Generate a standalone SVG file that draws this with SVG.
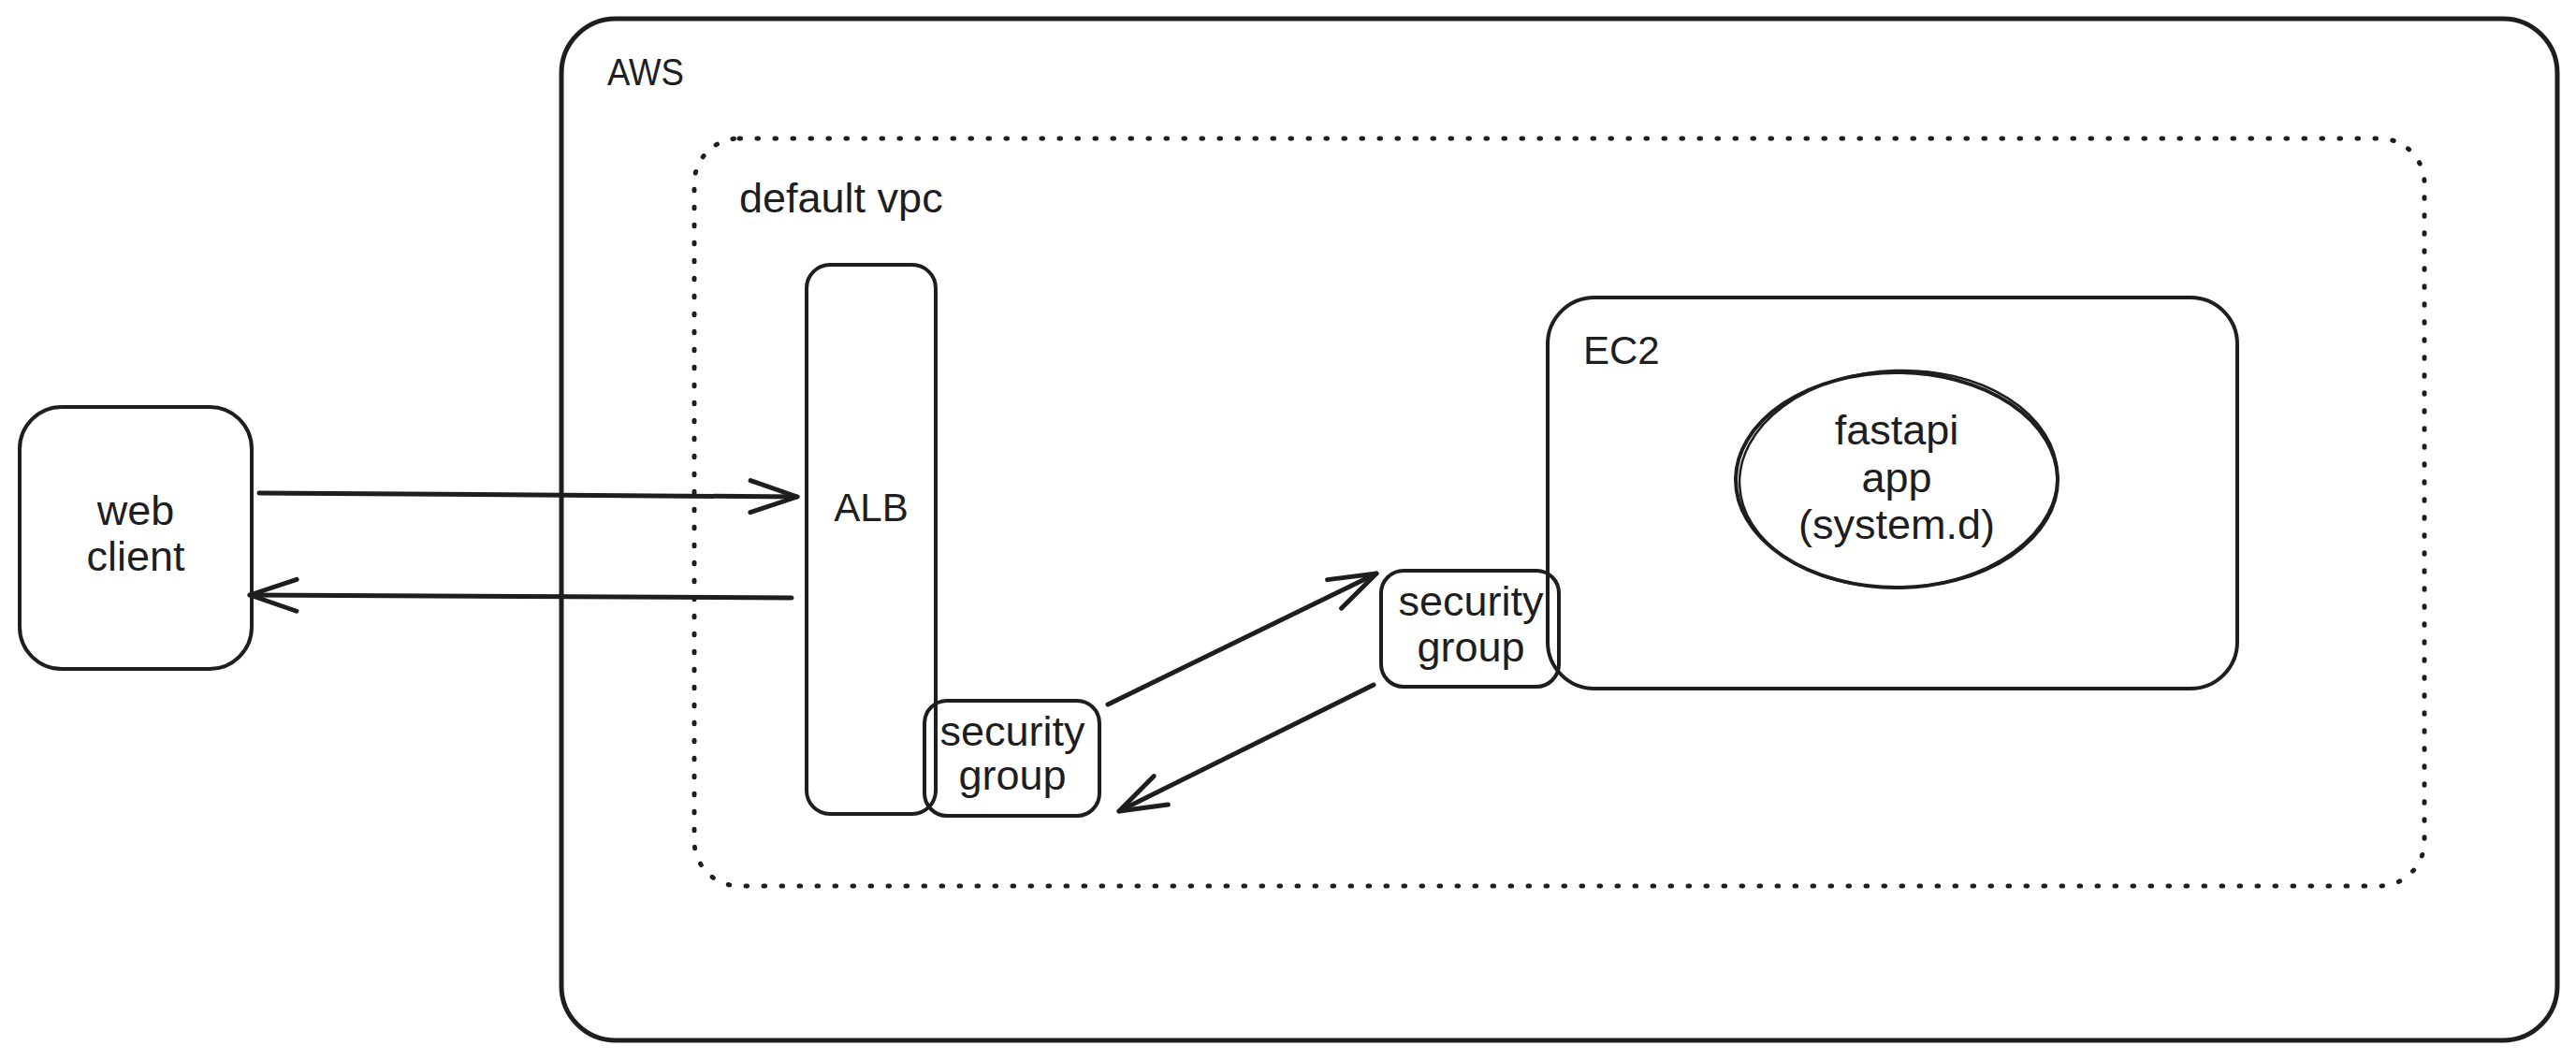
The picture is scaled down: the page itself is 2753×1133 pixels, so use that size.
<svg xmlns="http://www.w3.org/2000/svg" width="2753" height="1133" viewBox="0 0 2753 1133">
<style>
.box{fill:none;stroke:#1e1e1e;stroke-width:4;stroke-linejoin:round}
.outer{fill:none;stroke:#1e1e1e;stroke-width:5}
.dot{fill:none;stroke:#1e1e1e;stroke-width:5;stroke-linecap:round;stroke-dasharray:1.5 17.5}
.lbl{font-family:"Liberation Sans",Arial,sans-serif;font-size:45px;fill:#1e1e1e}
.cap{font-size:42px}
.c{text-anchor:middle}
.conn{fill:none;stroke:#1e1e1e;stroke-width:5;stroke-linecap:round}
</style>
<defs>
<marker id="ah" markerUnits="userSpaceOnUse" viewBox="-56 -24 62 48" refX="0" refY="0" markerWidth="62" markerHeight="48" orient="auto">
<path d="M-50,-17 L0,0 L-50,17" fill="none" stroke="#1e1e1e" stroke-width="5" stroke-linecap="round" stroke-linejoin="round"/>
</marker>
</defs>
<rect width="2753" height="1133" fill="#ffffff"/>
<g id="aws">
<rect class="outer" x="600" y="20" width="2133" height="1092" rx="58"/>
<text class="lbl" x="649" y="91" style="font-size:40px" textLength="82" lengthAdjust="spacingAndGlyphs">AWS</text>
</g>
<g id="default-vpc">
<rect class="dot" x="742" y="148" width="1849" height="799" rx="48"/>
<text class="lbl" x="790" y="227">default vpc</text>
</g>
<g id="web-client">
<rect class="box" x="21" y="435" width="248" height="280" rx="45"/>
<text class="lbl c" x="145" y="561">web</text>
<text class="lbl c" x="145" y="610">client</text>
</g>
<g id="alb">
<rect class="box" x="862" y="283" width="138" height="587" rx="25"/>
<text class="lbl cap c" x="931" y="557">ALB</text>
</g>
<g id="security-group-1">
<rect class="box" x="988" y="749" width="187" height="123" rx="24"/>
<text class="lbl c" x="1082" y="797">security</text>
<text class="lbl c" x="1082" y="844">group</text>
</g>
<g id="ec2">
<rect class="box" x="1654" y="318" width="737" height="418" rx="50"/>
<text class="lbl cap" x="1692" y="389">EC2</text>
</g>
<g id="security-group-2">
<rect class="box" x="1476" y="610" width="190" height="124" rx="24"/>
<text class="lbl c" x="1572" y="658">security</text>
<text class="lbl c" x="1572" y="707">group</text>
</g>
<g id="fastapi-app">
<ellipse class="box" cx="2027" cy="513" rx="172" ry="115"/>
<ellipse cx="2029" cy="512" rx="170" ry="116" fill="none" stroke="#1e1e1e" stroke-width="2.5" transform="rotate(-2 2029 512)"/>
<text class="lbl c" x="2027" y="475">fastapi</text>
<text class="lbl c" x="2027" y="526">app</text>
<text class="lbl c" x="2027" y="576">(system.d)</text>
</g>
<g id="connectors">
<path class="conn" d="M277,527 L852,531" marker-end="url(#ah)"/>
<path class="conn" d="M846,639 L267,636" marker-end="url(#ah)"/>
<path class="conn" d="M1184,753 L1471,613" marker-end="url(#ah)"/>
<path class="conn" d="M1468,732 L1196,867" marker-end="url(#ah)"/>
</g>
</svg>
